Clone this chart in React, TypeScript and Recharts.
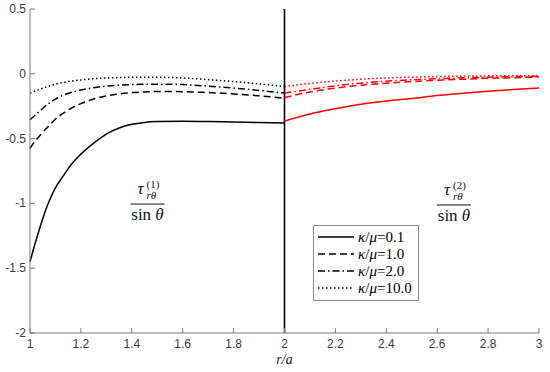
import React from 'react';
import { LineChart, Line, XAxis, YAxis, ReferenceLine, ReferenceDot } from 'recharts';

const rLeft = [1, 1.02, 1.04, 1.06, 1.08, 1.1, 1.13, 1.16, 1.2, 1.25, 1.3, 1.35, 1.4, 1.45, 1.5, 1.6, 1.7, 1.8, 1.9, 2.0];
const left01 = [-1.45, -1.31, -1.18, -1.06, -0.96, -0.88, -0.79, -0.705, -0.62, -0.535, -0.465, -0.418, -0.39, -0.375, -0.369, -0.366, -0.368, -0.372, -0.376, -0.38];
const left1 = [-0.575, -0.52, -0.475, -0.43, -0.39, -0.35, -0.305, -0.268, -0.23, -0.195, -0.17, -0.155, -0.145, -0.14, -0.137, -0.138, -0.145, -0.155, -0.17, -0.188];
const left2 = [-0.355, -0.32, -0.285, -0.25, -0.22, -0.195, -0.165, -0.145, -0.125, -0.108, -0.095, -0.088, -0.083, -0.081, -0.08, -0.083, -0.095, -0.11, -0.128, -0.149];
const left10 = [-0.15, -0.133, -0.118, -0.105, -0.092, -0.08, -0.067, -0.057, -0.047, -0.038, -0.032, -0.029, -0.027, -0.027, -0.027, -0.032, -0.045, -0.06, -0.078, -0.098];

const rRight = [2.0, 2.1, 2.2, 2.3, 2.4, 2.5, 2.6, 2.7, 2.8, 2.9, 3.0];
const right01 = [-0.365, -0.31, -0.27, -0.235, -0.21, -0.19, -0.168, -0.15, -0.135, -0.122, -0.11];
const right1 = [-0.183, -0.14, -0.11, -0.088, -0.072, -0.06, -0.05, -0.042, -0.035, -0.03, -0.025];
const right2 = [-0.149, -0.12, -0.093, -0.072, -0.057, -0.046, -0.038, -0.031, -0.026, -0.022, -0.019];
const right10 = [-0.098, -0.074, -0.056, -0.042, -0.032, -0.026, -0.021, -0.018, -0.016, -0.015, -0.014];

const xTicks = [1, 1.2, 1.4, 1.6, 1.8, 2, 2.2, 2.4, 2.6, 2.8, 3];
const xTickLabels = ['1', '1.2', '1.4', '1.6', '1.8', '2', '2.2', '2.4', '2.6', '2.8', '3'];
const yTicks = [-2, -1.5, -1, -0.5, 0, 0.5];
const yTickLabels = ['-2', '-1.5', '-1', '-0.5', '0', '0.5'];
const legendLabels = ['0.1', '1.0', '2.0', '10.0'];

const dashes = [undefined, '7 4', '7 3 1.5 3', '1.5 2.5'];

const data = [
  ...rLeft.map((r, i) => ({ r, a: left01[i], b: left1[i], c: left2[i], d: left10[i] })),
  ...rRight.map((r, i) => ({ r, ra: right01[i], rb: right1[i], rc: right2[i], rd: right10[i] })),
];

const AX = '#7a7a7a';
const TXT = '#3a3a3a';
const SANS = 'Liberation Sans, Arial, Helvetica, sans-serif';
const SERIF = 'Liberation Serif, DejaVu Serif, Times New Roman, serif';

const BottomTick = (p: any) => {
  const i = xTicks.indexOf(p.payload.value);
  return (
    <g>
      <line x1={p.x} x2={p.x} y1={p.y} y2={p.y - 5} stroke={AX} />
      <text x={p.x} y={p.y + 15} textAnchor="middle" style={{ fontSize: 12, fontFamily: SANS }} fill={TXT}>
        {xTickLabels[i]}
      </text>
    </g>
  );
};
const TopTick = (p: any) => <line x1={p.x} x2={p.x} y1={p.y} y2={p.y + 5} stroke={AX} />;
const LeftTick = (p: any) => {
  const i = yTicks.indexOf(p.payload.value);
  return (
    <g>
      <line x1={p.x} x2={p.x + 5} y1={p.y} y2={p.y} stroke={AX} />
      <text x={p.x - 4} y={p.y + 4} textAnchor="end" style={{ fontSize: 12, fontFamily: SANS }} fill={TXT}>
        {yTickLabels[i]}
      </text>
    </g>
  );
};
const RightTick = (p: any) => <line x1={p.x} x2={p.x - 5} y1={p.y} y2={p.y} stroke={AX} />;

const Fraction = (idx: string) => (props: any) => {
  const { cx, cy } = props;
  if (cx == null) return null;
  return (
    <g style={{ fontFamily: SERIF }} fill="#111">
      <text x={cx - 10} y={cy - 10} style={{ fontSize: 17, fontStyle: 'italic', fontFamily: SERIF }}>τ</text>
      <text x={cx - 1} y={cy - 5} style={{ fontSize: 11, fontStyle: 'italic', fontFamily: SERIF }}>rθ</text>
      <text x={cx - 1} y={cy - 16} style={{ fontSize: 11, fontFamily: SERIF }}>({idx})</text>
      <line x1={cx - 17} x2={cx + 17} y1={cy} y2={cy} stroke="#111" strokeWidth={1} />
      <text x={cx} y={cy + 16} textAnchor="middle" style={{ fontSize: 17, fontFamily: SERIF }}>
        sin <tspan style={{ fontStyle: 'italic' }}>θ</tspan>
      </text>
    </g>
  );
};

const Legend = () => (
  <div
    style={{
      position: 'absolute', left: 313, top: 225, width: 106, height: 76,
      border: '1px solid #8a8a8a', background: '#fff', boxSizing: 'border-box',
    }}
  >
    <svg width={104} height={74}>
      {legendLabels.map((lab, i) => (
        <g key={lab}>
          <line x1={4} x2={40} y1={11 + i * 17} y2={11 + i * 17} stroke="#000" strokeWidth={1.5} strokeDasharray={dashes[i]} />
          <text x={44} y={16 + i * 17} style={{ fontSize: 15, fontFamily: SERIF }} fill="#000">
            <tspan style={{ fontStyle: 'italic' }}>κ</tspan>/<tspan style={{ fontStyle: 'italic' }}>μ</tspan>={lab}
          </text>
        </g>
      ))}
    </svg>
  </div>
);

export default function App() {
  const leftKeys = ['a', 'b', 'c', 'd'];
  const rightKeys = ['ra', 'rb', 'rc', 'rd'];
  return (
    <div style={{ position: 'absolute', left: 0, top: 0, width: 550, height: 372, background: '#fff' }}>
      <LineChart width={550} height={372} data={data} margin={{ top: 9, right: 11, left: 0, bottom: 0 }}>
        <XAxis
          dataKey="r" type="number" domain={[1, 3]} ticks={xTicks} interval={0}
          height={39} tickSize={0} tickMargin={0} tickLine={false}
          axisLine={{ stroke: AX }} tick={BottomTick}
          label={{ value: 'r/a', position: 'insideBottom', offset: 8, style: { fontFamily: SERIF, fontStyle: 'italic', fontSize: 14, fill: '#222' } }}
        />
        <XAxis
          xAxisId="top" orientation="top" dataKey="r" type="number" domain={[1, 3]} ticks={xTicks} interval={0}
          height={0} tickSize={0} tickMargin={0} tickLine={false} axisLine={{ stroke: AX }} tick={TopTick}
        />
        <YAxis
          type="number" domain={[-2, 0.5]} ticks={yTicks} interval={0} width={30}
          tickSize={0} tickMargin={0} tickLine={false} axisLine={{ stroke: AX }} tick={LeftTick}
        />
        <YAxis
          yAxisId="right" orientation="right" type="number" domain={[-2, 0.5]} ticks={yTicks} interval={0} width={0}
          tickSize={0} tickMargin={0} tickLine={false} axisLine={{ stroke: AX }} tick={RightTick}
        />
        <ReferenceLine x={2} stroke="#000" strokeWidth={1.6} />
        {leftKeys.map((k, i) => (
          <Line key={k} dataKey={k} type="monotone" stroke="#000" strokeWidth={1.5} strokeDasharray={dashes[i]} dot={false} isAnimationActive={false} />
        ))}
        {rightKeys.map((k, i) => (
          <Line key={k} dataKey={k} type="monotone" stroke="#ff0000" strokeWidth={1.5} strokeDasharray={dashes[i]} dot={false} isAnimationActive={false} />
        ))}
        <ReferenceDot x={1.4617} y={-1.005} r={0} shape={Fraction('1')} />
        <ReferenceDot x={2.666} y={-1.012} r={0} shape={Fraction('2')} />
      </LineChart>
      <Legend />
    </div>
  );
}
